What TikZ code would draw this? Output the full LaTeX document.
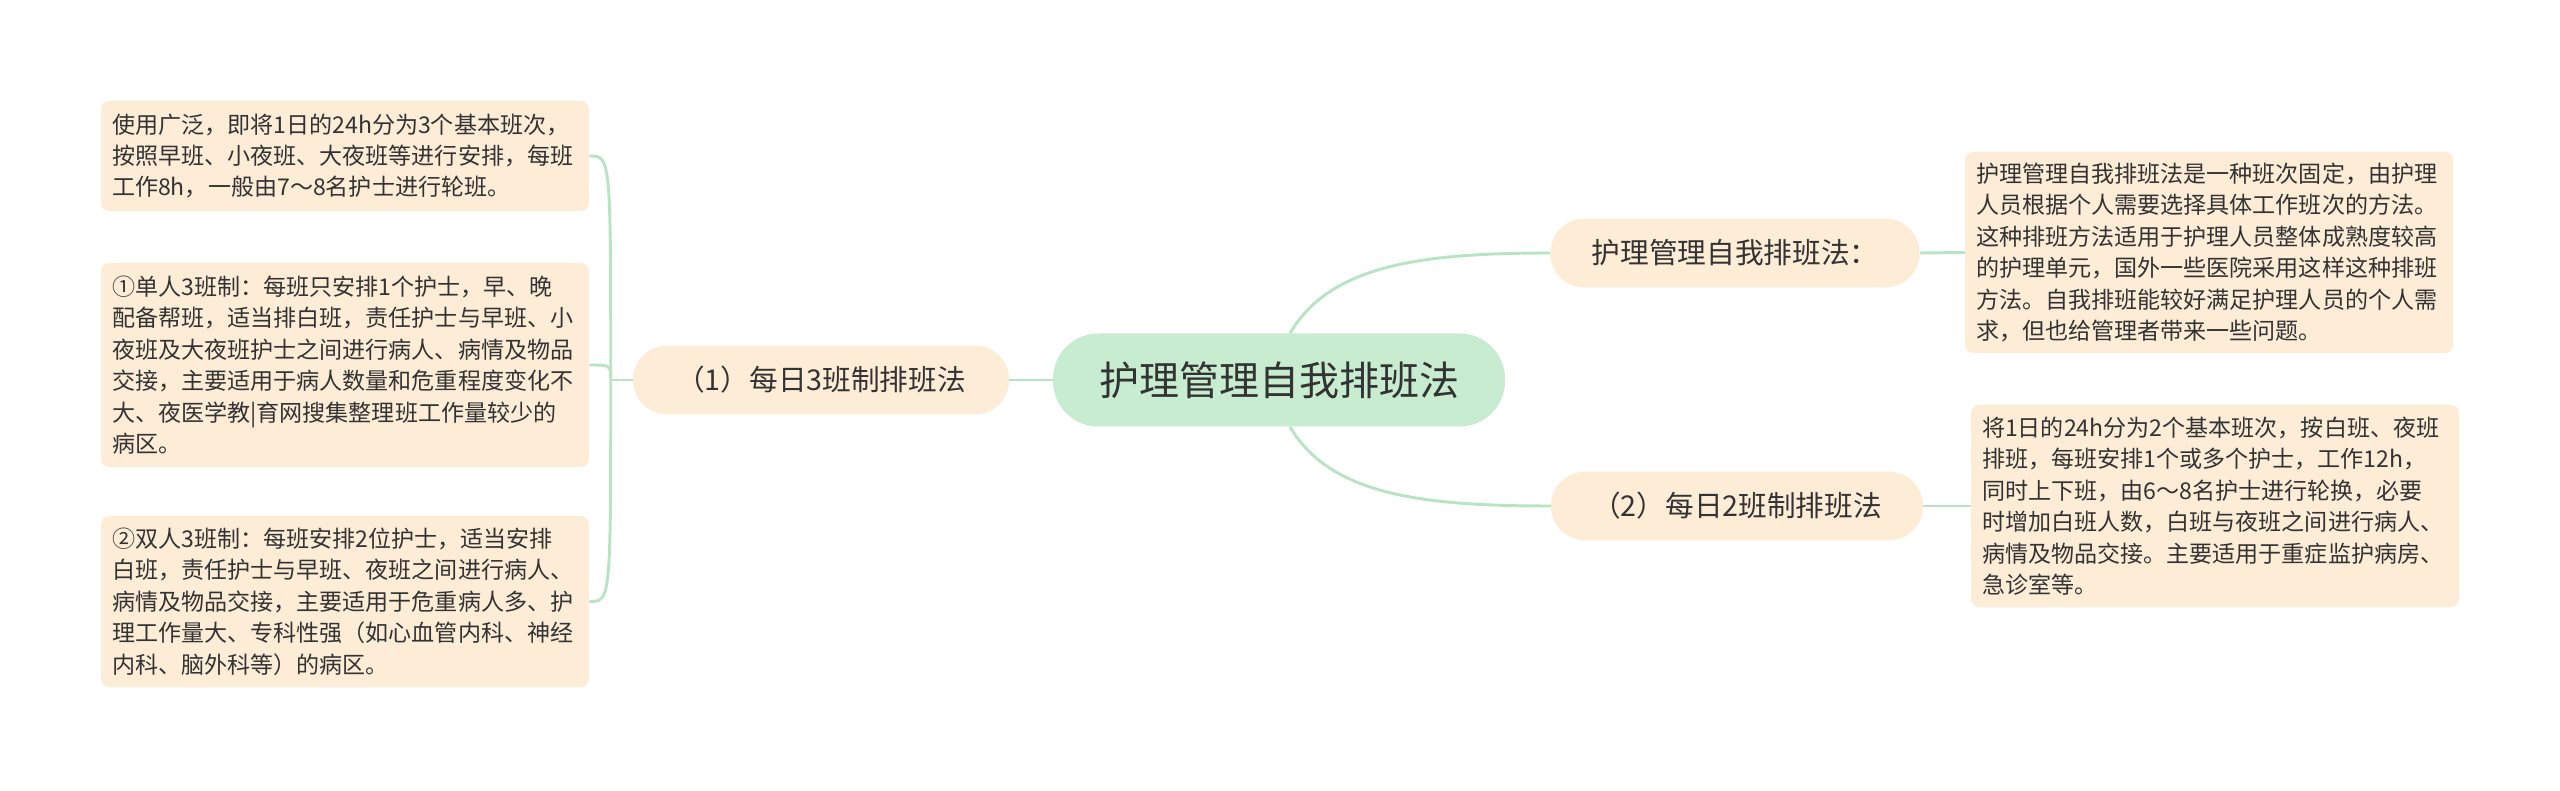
\documentclass[tikz,border=0pt]{standalone}
\usepackage{fontspec}
\newfontfamily\cjk{Noto Sans CJK SC}
\usetikzlibrary{calc,backgrounds}
\definecolor{peach}{RGB}{253,236,214}
\definecolor{mint}{RGB}{199,236,207}
\definecolor{linegreen}{RGB}{184,228,196}
\definecolor{ink}{RGB}{51,51,51}
\tikzset{
  rootbox/.style={fill=mint, rounded corners=34pt, minimum width=339pt, minimum height=69.75pt, inner sep=0pt, text=ink, font=\cjk\fontsize{30pt}{36pt}\selectfont},
  branchbox/.style={fill=peach, rounded corners=25.5pt, minimum height=51.5pt, inner sep=0pt, text=ink, font=\cjk\fontsize{21.5pt}{26pt}\selectfont},
  leafbox/.style={fill=peach, rounded corners=6pt, inner xsep=8.25pt, inner ysep=0pt, text width=349.5pt, align=left, text=ink, font=\cjk\fontsize{17.3pt}{23.6pt}\selectfont},
  conn/.style={draw=linegreen, line width=2.2pt}
}
\begin{document}
\begin{tikzpicture}[x=0.75pt,y=-0.75pt]
\useasboundingbox (0,0) rectangle (2560,791);

\node[rootbox] (c) at (1279,380) {护理管理自我排班法};

\node[branchbox, minimum width=282pt] (L) at (821,380) {（1）每日3班制排班法};
\node[branchbox, minimum width=277pt] (R1) at (1735,253) {护理管理自我排班法：};
\node[branchbox, minimum width=279pt] (R2) at (1737,506) {（2）每日2班制排班法};

\node[leafbox, minimum height=82.5pt] (LL1) at (345,156) {使用广泛，即将1日的24h分为3个基本班次，\\按照早班、小夜班、大夜班等进行安排，每班\\工作8h，一般由7～8名护士进行轮班。};
\node[leafbox, minimum height=153pt] (LL2) at (345,365) {①单人3班制：每班只安排1个护士，早、晚\\配备帮班，适当排白班，责任护士与早班、小\\夜班及大夜班护士之间进行病人、病情及物品\\交接，主要适用于病人数量和危重程度变化不\\大、夜医学教|育网搜集整理班工作量较少的\\病区。};
\node[leafbox, minimum height=128.25pt] (LL3) at (345,601.5) {②双人3班制：每班安排2位护士，适当安排\\白班，责任护士与早班、夜班之间进行病人、\\病情及物品交接，主要适用于危重病人多、护\\理工作量大、专科性强（如心血管内科、神经\\内科、脑外科等）的病区。};
\node[leafbox, minimum height=150.75pt] (RL1) at (2209,252.5) {护理管理自我排班法是一种班次固定，由护理\\人员根据个人需要选择具体工作班次的方法。\\这种排班方法适用于护理人员整体成熟度较高\\的护理单元，国外一些医院采用这样这种排班\\方法。自我排班能较好满足护理人员的个人需\\求，但也给管理者带来一些问题。};
\node[leafbox, minimum height=151.5pt] (RL2) at (2215,506) {将1日的24h分为2个基本班次，按白班、夜班\\排班，每班安排1个或多个护士，工作12h，\\同时上下班，由6～8名护士进行轮换，必要\\时增加白班人数，白班与夜班之间进行病人、\\病情及物品交接。主要适用于重症监护病房、\\急诊室等。};

\coordinate (lj) at ($(L.west)+(-22,0)$);

\begin{scope}[on background layer]
\fill[white] (0,0) rectangle (2560,791);
\draw[conn] (c.west) -- (L.east);
\draw[conn] ($(c.north)+(11,0)$) .. controls ($(c.north)+(51,-68)$) and ($(R1.west)+(-130,0)$) .. (R1.west);
\draw[conn] ($(c.south)+(11,0)$) .. controls ($(c.south)+(51,68)$) and ($(R2.west)+(-130,0)$) .. (R2.west);
\draw[conn] (R1.east) -- (RL1.west);
\draw[conn] (R2.east) -- (RL2.west);
\draw[conn] (L.west) -- (lj);
\draw[conn] (lj) .. controls (lj |- LL1.east) .. (LL1.east);
\draw[conn] (lj) .. controls (lj |- LL2.east) .. (LL2.east);
\draw[conn] (lj) .. controls (lj |- LL3.east) .. (LL3.east);
\end{scope}
\end{tikzpicture}
\end{document}
